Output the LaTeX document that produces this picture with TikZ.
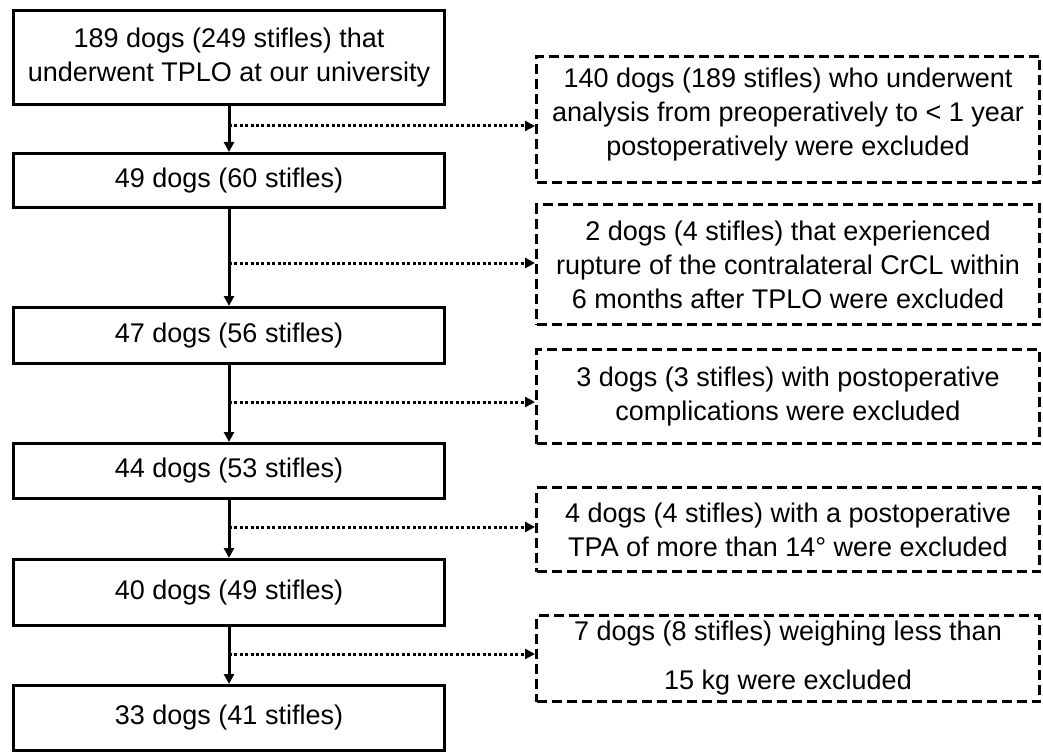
\documentclass[tikz,border=0pt]{standalone}
\usepackage{fontspec}
\setmainfont{Liberation Sans}
\usetikzlibrary{arrows.meta}
\begin{document}
\begin{tikzpicture}[x=1pt,y=-1pt,
  every node/.style={font=\fontsize{27}{34}\selectfont, align=center, inner sep=0pt},
  mainbox/.style={draw, line width=3pt, minimum width=431pt},
  exbox/.style={draw, line width=3pt, dash pattern=on 10pt off 5pt, minimum width=503pt},
  flow/.style={line width=3pt, -{Triangle[length=10pt,width=10pt]}},
  excl/.style={line width=3pt, dash pattern=on 3pt off 2.4pt, -{Triangle[length=10pt,width=10pt]}}]
\useasboundingbox (0,0) rectangle (1043,754);
% main boxes
\node[mainbox, minimum height=94pt] (B1) at (229,57.5) {189 dogs (249 stifles) that\\underwent TPLO at our university};
\node[mainbox, minimum height=54pt] (B2) at (229,180.5) {49 dogs (60 stifles)};
\node[mainbox, minimum height=56pt] (B3) at (229,335.5) {47 dogs (56 stifles)};
\node[mainbox, minimum height=55pt] (B4) at (229,471) {44 dogs (53 stifles)};
\node[mainbox, minimum height=66pt] (B5) at (229,592.5) {40 dogs (49 stifles)};
\node[mainbox, minimum height=65pt] (B6) at (229,718) {33 dogs (41 stifles)};
% exclusion boxes
\node[exbox, minimum height=126pt, text depth=15pt] (R1) at (788,119.5) {140 dogs (189 stifles) who underwent\\analysis from preoperatively to < 1 year\\postoperatively were excluded};
\node[exbox, minimum height=120pt] (R2) at (788,264.5) {2 dogs (4 stifles) that experienced\\rupture of the contralateral CrCL within\\6 months after TPLO were excluded};
\node[exbox, minimum height=94pt] (R3) at (788,396.5) {3 dogs (3 stifles) with postoperative\\complications were excluded};
\node[exbox, minimum height=84pt] (R4) at (788,529.5) {4 dogs (4 stifles) with a postoperative\\TPA of more than 14° were excluded};
\node[exbox, minimum height=86pt] (R5) at (788,658.5) {7 dogs (8 stifles) weighing less than\\[15pt]15 kg were excluded};
% flow
\draw[flow] (B1.south) -- (B2.north);
\draw[flow] (B2.south) -- (B3.north);
\draw[flow] (B3.south) -- (B4.north);
\draw[flow] (B4.south) -- (B5.north);
\draw[flow] (B5.south) -- (B6.north);
% junctions
\coordinate (J1) at (229,126);
\coordinate (J2) at (229,263);
\coordinate (J3) at (229,402);
\coordinate (J4) at (229,527);
\coordinate (J5) at (229,654);
\draw[excl] (J1) -- (J1 -| R1.west);
\draw[excl] (J2) -- (J2 -| R2.west);
\draw[excl] (J3) -- (J3 -| R3.west);
\draw[excl] (J4) -- (J4 -| R4.west);
\draw[excl] (J5) -- (J5 -| R5.west);
\end{tikzpicture}
\end{document}
